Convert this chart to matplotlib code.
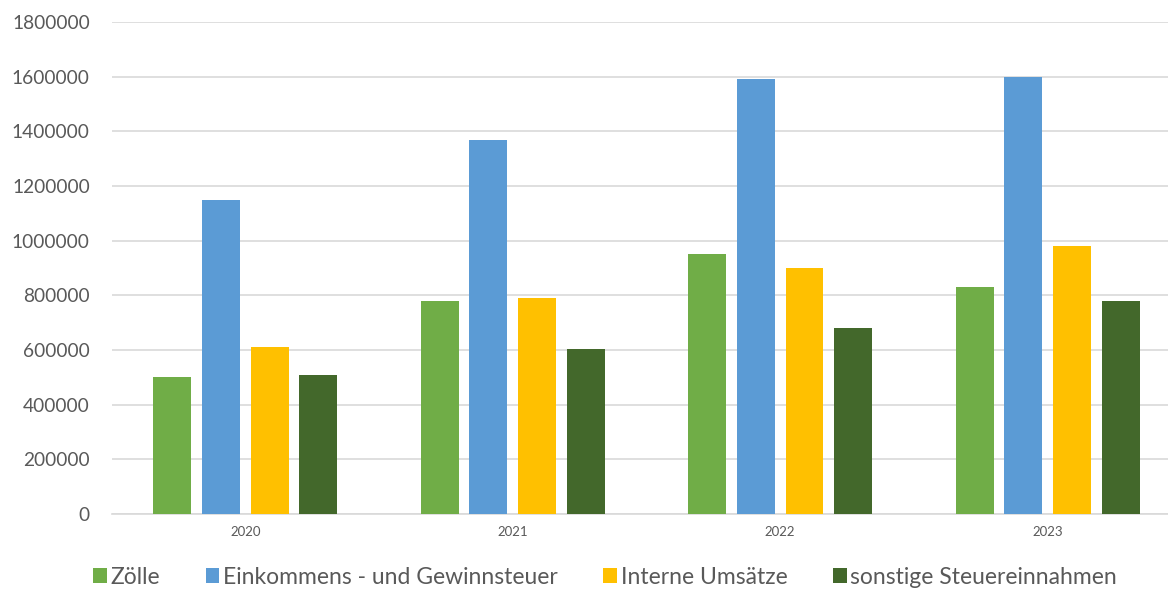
import matplotlib
matplotlib.use("Agg")
import matplotlib.pyplot as plt
import numpy as np

years = ["2020", "2021", "2022", "2023"]
series_names = ["Zölle", "Einkommens - und Gewinnsteuer", "Interne Umsätze", "sonstige Steuereinnahmen"]
zoelle = [500000, 780000, 950000, 830000]
einkommen = [1150000, 1370000, 1590000, 1600000]
umsaetze = [610000, 790000, 900000, 980000]
sonstige = [510000, 605000, 680000, 780000]
colors = ["#70AD47", "#5B9BD5", "#FFC000", "#43682B"]

plt.rcParams['font.family'] = ['Lato', 'DejaVu Sans']
txt = "#595959"

fig = plt.figure(figsize=(11.68, 5.89), dpi=100)
ax = fig.add_axes([112/1168, 1-514/589, 1-112/1168, (514-22)/589])

x = np.arange(len(years))
width = 0.142
pitch = 0.182
data = [zoelle, einkommen, umsaetze, sonstige]
for i, (vals, name, c) in enumerate(zip(data, series_names, colors)):
    ax.bar(x + (i - 1.5) * pitch, vals, width, color=c, label=name, zorder=3)

ax.set_ylim(0, 1800000)
ax.set_xlim(-0.498, 3.45)
ax.set_yticks(np.arange(0, 1800001, 200000))
ax.set_yticklabels([str(v) for v in range(0, 1800001, 200000)])
ax.set_xticks(x)
ax.set_xticklabels(years)
ax.grid(axis='y', color='#D9D9D9', linewidth=1.2, zorder=0)
for s in ['top', 'right', 'left']:
    ax.spines[s].set_visible(False)
ax.spines['bottom'].set_color('#D9D9D9')
ax.spines['bottom'].set_linewidth(1.2)
ax.tick_params(axis='y', length=0, labelsize=13.8, labelcolor=txt, pad=16)
ax.tick_params(axis='x', length=0, labelsize=9.5, labelcolor=txt, pad=9)

handles, labels = ax.get_legend_handles_labels()
fig.legend(handles, labels, loc='center', bbox_to_anchor=(605/1168, 1-577/589),
           ncol=4, frameon=False, fontsize=16.5, labelcolor=txt,
           handlelength=0.6, handleheight=0.6, handletextpad=0.15, columnspacing=2.0)

fig.savefig("out.png", dpi=100)
